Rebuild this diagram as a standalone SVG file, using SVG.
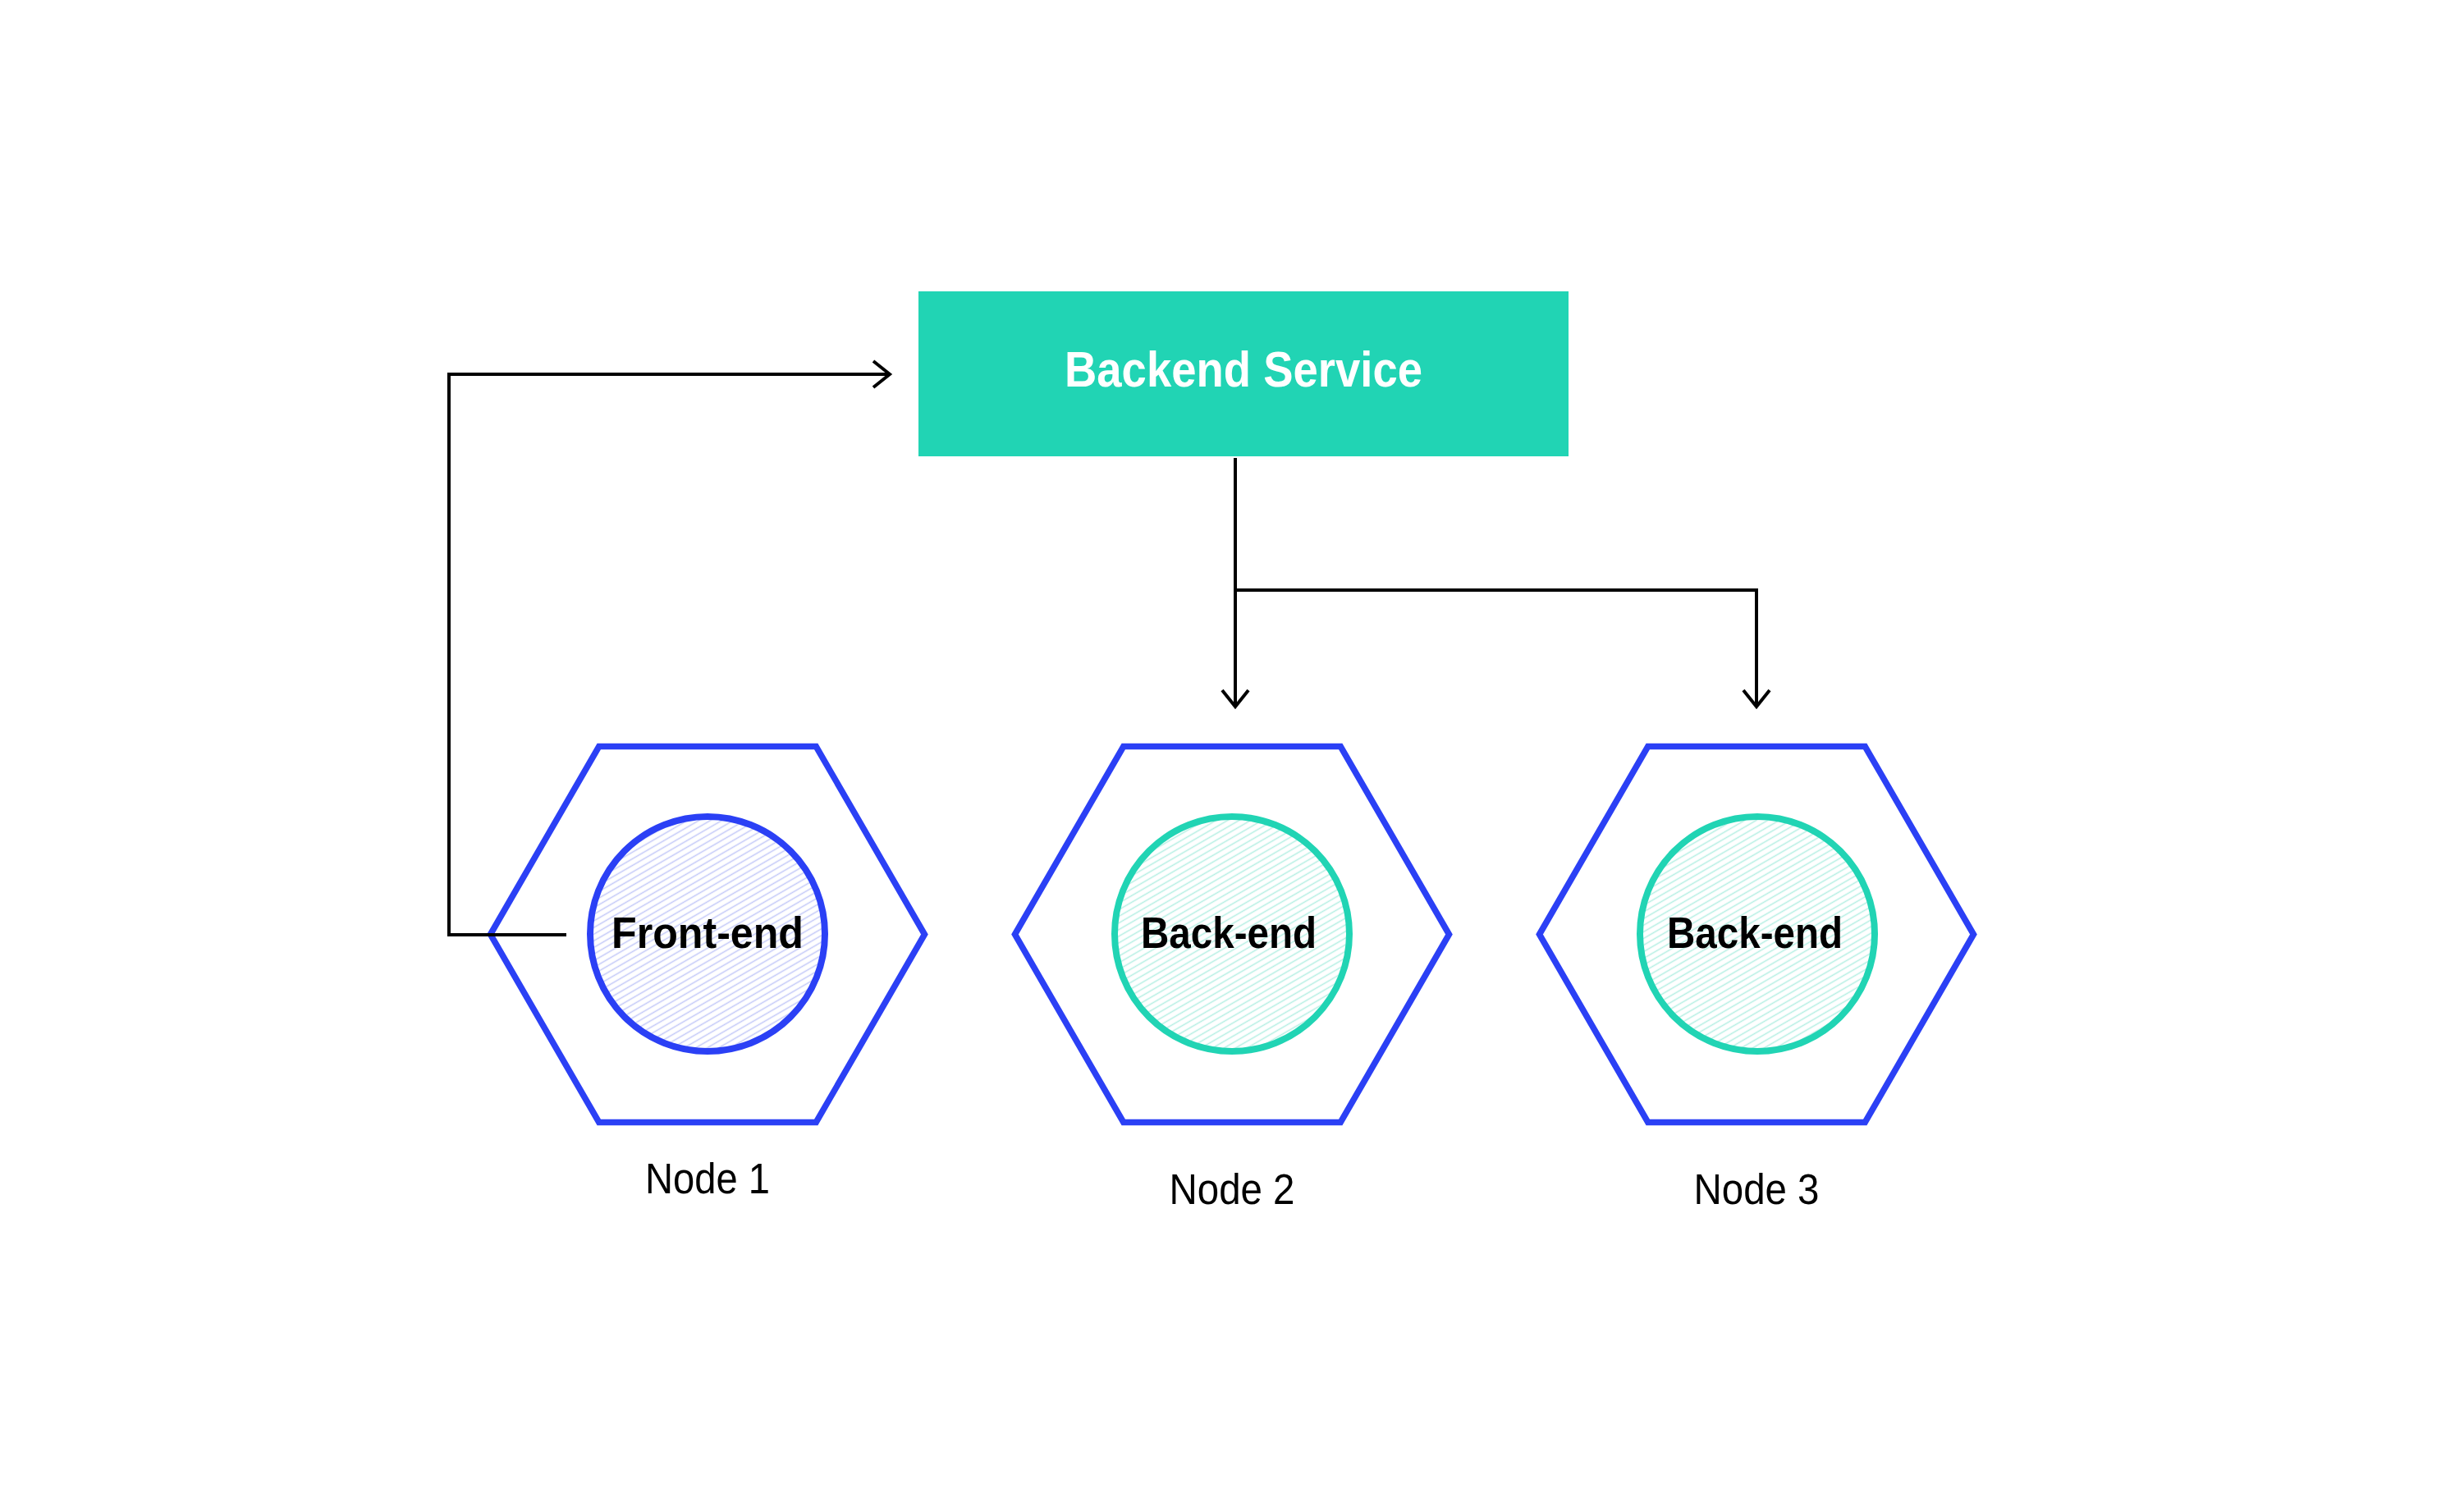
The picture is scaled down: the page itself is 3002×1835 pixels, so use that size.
<svg xmlns="http://www.w3.org/2000/svg" width="3002" height="1835" viewBox="0 0 3002 1835">
  <style>
    .hex { fill: none; stroke: #2B40F5; stroke-width: 7.5; stroke-linejoin: miter; }
    .core-blue { fill: url(#hatchBlue); stroke: #2B40F5; stroke-width: 8; }
    .core-teal { fill: url(#hatchTeal); stroke: #21D4B4; stroke-width: 8; }
    .core-label { font-family: "Liberation Sans", Arial, sans-serif; font-weight: bold; font-size: 53px; fill: #000000; text-anchor: middle; }
    .node-label { font-family: "Liberation Sans", Arial, sans-serif; font-size: 51px; fill: #000000; text-anchor: middle; }
    .svc-label { font-family: "Liberation Sans", Arial, sans-serif; font-weight: bold; font-size: 61px; fill: #ffffff; text-anchor: middle; }
    .conn { fill: none; stroke: #000000; stroke-width: 4; }
  </style>
  <defs>
    <pattern id="hatchBlue" patternUnits="userSpaceOnUse" width="12" height="7" patternTransform="rotate(-30)">
      <rect width="12" height="7" fill="#ffffff"/>
      <line x1="0" y1="3.5" x2="12" y2="3.5" stroke="#C3C9F8" stroke-width="1.5"/>
    </pattern>
    <pattern id="hatchTeal" patternUnits="userSpaceOnUse" width="12" height="7" patternTransform="rotate(-30)">
      <rect width="12" height="7" fill="#ffffff"/>
      <line x1="0" y1="3.5" x2="12" y2="3.5" stroke="#B5EFE3" stroke-width="1.5"/>
    </pattern>
    <marker id="chev" markerUnits="userSpaceOnUse" viewBox="-24 -20 28 40" refX="0" refY="0" markerWidth="28" markerHeight="40" orient="auto" overflow="visible">
      <path d="M-20,-16 L0,0 L-20,16" fill="none" stroke="#000000" stroke-width="4"/>
    </marker>
  </defs>

  <rect width="3002" height="1835" fill="#ffffff"/>

  <g id="backend-service">
    <rect x="1119" y="355" width="792" height="201" fill="#21D4B4"/>
    <text class="svc-label" x="1515" y="471" textLength="436" lengthAdjust="spacingAndGlyphs">Backend Service</text>
  </g>

  <g id="node1">
    <polygon class="hex" points="597.5,1138.5 729.75,909.5 994.25,909.5 1126.5,1138.5 994.25,1367.5 729.75,1367.5"/>
    <circle class="core-blue" cx="862" cy="1138" r="143"/>
    <text class="core-label" x="862" y="1155" textLength="234" lengthAdjust="spacingAndGlyphs">Front-end</text>
    <text class="node-label" x="862" y="1454" textLength="152" lengthAdjust="spacingAndGlyphs">Node 1</text>
  </g>

  <g id="node2">
    <polygon class="hex" points="1236.5,1138.5 1368.75,909.5 1633.25,909.5 1765.5,1138.5 1633.25,1367.5 1368.75,1367.5"/>
    <circle class="core-teal" cx="1501" cy="1138" r="143"/>
    <text class="core-label" x="1497" y="1155" textLength="214" lengthAdjust="spacingAndGlyphs">Back-end</text>
    <text class="node-label" x="1501" y="1467" textLength="153" lengthAdjust="spacingAndGlyphs">Node 2</text>
  </g>

  <g id="node3">
    <polygon class="hex" points="1875.5,1138.5 2007.75,909.5 2272.25,909.5 2404.5,1138.5 2272.25,1367.5 2007.75,1367.5"/>
    <circle class="core-teal" cx="2141" cy="1138" r="143"/>
    <text class="core-label" x="2138" y="1155" textLength="214" lengthAdjust="spacingAndGlyphs">Back-end</text>
    <text class="node-label" x="2140" y="1467" textLength="153" lengthAdjust="spacingAndGlyphs">Node 3</text>
  </g>

  <g id="connectors">
    <path class="conn" d="M690,1139 H547 V456 H1084" marker-end="url(#chev)"/>
    <path class="conn" d="M1505,558 V861" marker-end="url(#chev)"/>
    <path class="conn" d="M1505,719 H2140 V861" marker-end="url(#chev)"/>
  </g>
</svg>
